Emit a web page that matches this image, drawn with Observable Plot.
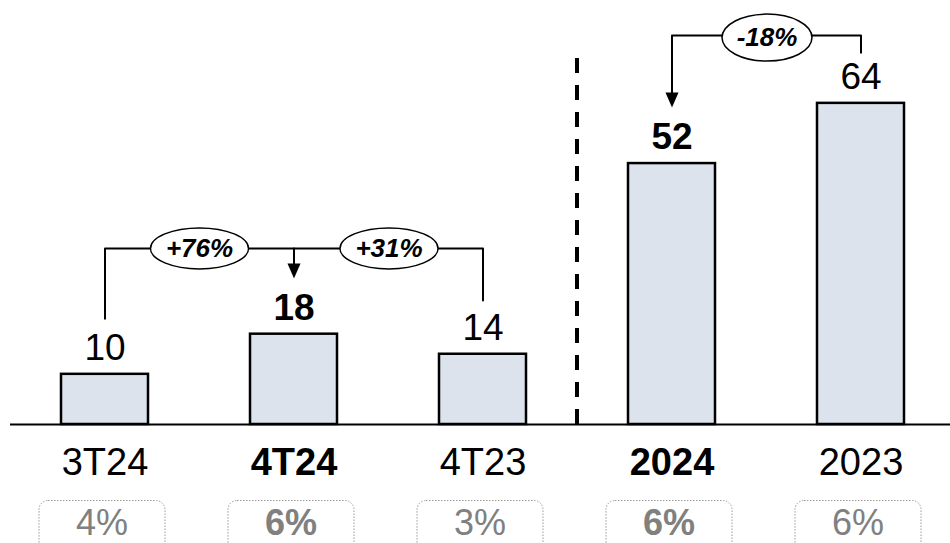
<!DOCTYPE html>
<html>
<head>
<meta charset="utf-8">
<script src="https://cdn.jsdelivr.net/npm/d3@7"></script>
<script src="https://cdn.jsdelivr.net/npm/@observablehq/plot@0.6"></script>
<style>
  html, body { margin: 0; padding: 0; background: #fff; }
  #chart svg { display: block; }
</style>
</head>
<body>
<div id="chart"></div>
<script>
// ---- data ----
const categories = ["3T24", "4T24", "4T23", "2024", "2023"];
const values = [10, 18, 14, 52, 64];
const shares = ["4%", "6%", "3%", "6%", "6%"];
const highlighted = ["4T24", "2024"];
const changeLabels = ["+76%", "+31%", "-18%"];

const rows = categories.map((c, i) => ({cat: c, value: values[i], share: shares[i], bold: highlighted.includes(c)}));

// ---- custom symbols ----
function ellipse(rx, ry) {
  const k = 0.5523;
  return {draw(ctx) {
    ctx.moveTo(-rx, 0);
    ctx.bezierCurveTo(-rx, -ry * k, -rx * k, -ry, 0, -ry);
    ctx.bezierCurveTo(rx * k, -ry, rx, -ry * k, rx, 0);
    ctx.bezierCurveTo(rx, ry * k, rx * k, ry, 0, ry);
    ctx.bezierCurveTo(-rx * k, ry, -rx, ry * k, -rx, 0);
    ctx.closePath();
  }};
}
const arrowHead = {draw(ctx) {
  ctx.moveTo(-6.5, -15); ctx.lineTo(6.5, -15); ctx.lineTo(0, 0); ctx.closePath();
}};
function roundRect(x0, y0, x1, y1, r) {
  return {draw(ctx) {
    ctx.moveTo(x0 + r, y0);
    ctx.lineTo(x1 - r, y0);
    ctx.arcTo(x1, y0, x1, y0 + r, r);
    ctx.lineTo(x1, y1 - r);
    ctx.arcTo(x1, y1, x1 - r, y1, r);
    ctx.lineTo(x0 + r, y1);
    ctx.arcTo(x0, y1, x0, y1 - r, r);
    ctx.lineTo(x0, y0 + r);
    ctx.arcTo(x0, y0, x0 + r, y0, r);
    ctx.closePath();
  }};
}

const font = "Liberation Sans, Arial, Helvetica, sans-serif";

// bracket geometry (in value units)
const leftLevel = 35.1, rightLevel = 77.5;
const bracketLeft = [
  {x: categories[0], y: 21.1}, {x: categories[0], y: leftLevel},
  {x: categories[2], y: leftLevel}, {x: categories[2], y: 24.7}
];
const bracketRight = [
  {x: categories[4], y: 74.1}, {x: categories[4], y: rightLevel},
  {x: categories[3], y: rightLevel}, {x: categories[3], y: 65.5}
];
const stem = [{x: categories[1], y: leftLevel}, {x: categories[1], y: 31.5}];
const tips = [{x: categories[1], y: 29.1}, {x: categories[3], y: 63.2}];

const catSize = 38, valSize = 37, shareSize = 36, chgSize = 26;

const chart = Plot.plot({
  width: 950,
  height: 543,
  marginTop: 0,
  marginBottom: 119,
  marginLeft: 10,
  marginRight: 0,
  style: {fontFamily: font, background: "#fff", overflow: "visible"},
  x: {domain: categories, range: [10, 955], paddingInner: 0.54, paddingOuter: 0.27, axis: null},
  y: {domain: [0, 84.5], axis: null},
  marks: [
    Plot.barY(rows, {x: "cat", y: "value", fill: "#dce3ed", stroke: "#000", strokeWidth: 2.5}),
    Plot.ruleY([0], {stroke: "#000", strokeWidth: 2}),
    Plot.ruleX([categories[2]], {dx: 94, y1: 0, y2: 74.8, stroke: "#000", strokeWidth: 4, strokeDasharray: "15,12"}),
    // value labels
    Plot.text(rows.filter(d => !d.bold), {x: "cat", y: "value", text: d => String(d.value), dy: -26, lineAnchor: "middle", fontSize: valSize, fill: "#000"}),
    Plot.text(rows.filter(d => d.bold), {x: "cat", y: "value", text: d => String(d.value), dy: -26, lineAnchor: "middle", fontSize: valSize, fontWeight: "bold", fill: "#000"}),
    // category labels
    Plot.text(rows.filter(d => !d.bold), {x: "cat", text: "cat", frameAnchor: "bottom", dy: 38, lineAnchor: "middle", fontSize: catSize, fill: "#000"}),
    Plot.text(rows.filter(d => d.bold), {x: "cat", text: "cat", frameAnchor: "bottom", dy: 38, lineAnchor: "middle", fontSize: catSize, fontWeight: "bold", fill: "#000"}),
    // share boxes
    Plot.dot(rows, {x: "cat", frameAnchor: "bottom", dx: -3, dy: 100, r: 10, symbol: roundRect(-63, -24, 63, 45, 9), fill: "none", stroke: "#9a9a9a", strokeWidth: 1, strokeDasharray: "1.5,1.5"}),
    Plot.text(rows.filter(d => !d.bold), {x: "cat", text: "share", frameAnchor: "bottom", dx: -3, dy: 99, lineAnchor: "middle", fontSize: shareSize, fill: "#808080"}),
    Plot.text(rows.filter(d => d.bold), {x: "cat", text: "share", frameAnchor: "bottom", dx: -3, dy: 99, lineAnchor: "middle", fontSize: shareSize, fontWeight: "bold", fill: "#808080"}),
    // brackets
    Plot.line(bracketLeft, {x: "x", y: "y", stroke: "#000", strokeWidth: 2, curve: "linear"}),
    Plot.line(bracketRight, {x: "x", y: "y", stroke: "#000", strokeWidth: 2, curve: "linear"}),
    Plot.line(stem, {x: "x", y: "y", stroke: "#000", strokeWidth: 2}),
    Plot.dot(tips, {x: "x", y: "y", r: 10, symbol: arrowHead, fill: "#000", stroke: "none"}),
    // change ellipses
    Plot.dot([{x: categories[0], y: leftLevel}], {x: "x", y: "y", dx: 94.5, r: 10, symbol: ellipse(49, 20.5), fill: "#fff", stroke: "#000", strokeWidth: 1.5}),
    Plot.dot([{x: categories[1], y: leftLevel}], {x: "x", y: "y", dx: 95, r: 10, symbol: ellipse(49, 20.5), fill: "#fff", stroke: "#000", strokeWidth: 1.5}),
    Plot.dot([{x: categories[3], y: rightLevel}], {x: "x", y: "y", dx: 95, dy: 2, r: 10, symbol: ellipse(45, 23.5), fill: "#fff", stroke: "#000", strokeWidth: 1.5}),
    Plot.text([{x: categories[0], y: leftLevel, t: changeLabels[0]}], {x: "x", y: "y", text: "t", dx: 94.5, lineAnchor: "middle", fontSize: chgSize, fontWeight: "bold", fontStyle: "italic", fill: "#000"}),
    Plot.text([{x: categories[1], y: leftLevel, t: changeLabels[1]}], {x: "x", y: "y", text: "t", dx: 95, lineAnchor: "middle", fontSize: chgSize, fontWeight: "bold", fontStyle: "italic", fill: "#000"}),
    Plot.text([{x: categories[3], y: rightLevel, t: changeLabels[2]}], {x: "x", y: "y", text: "t", dx: 95, dy: 2, lineAnchor: "middle", fontSize: chgSize, fontWeight: "bold", fontStyle: "italic", fill: "#000"})
  ]
});
document.getElementById("chart").appendChild(chart);
</script>
</body>
</html>
